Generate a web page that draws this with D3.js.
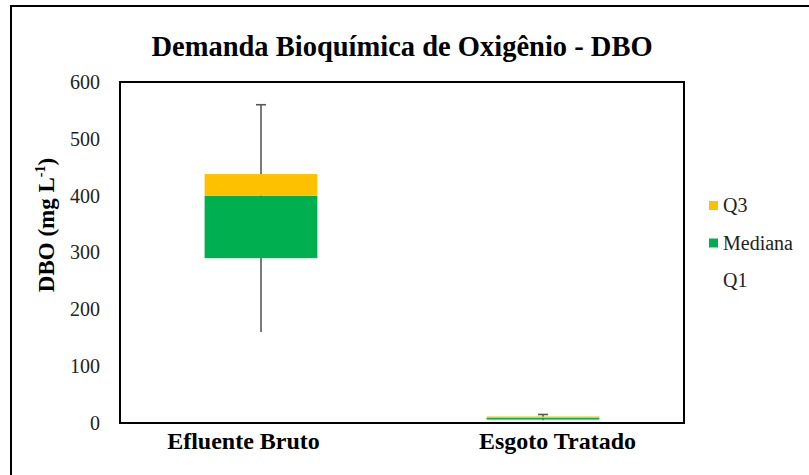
<!DOCTYPE html>
<html><head><meta charset="utf-8">
<script src="https://cdn.jsdelivr.net/npm/d3@7"></script>
<style>body{margin:0;background:#fff;}</style>
</head><body>
<svg id="c" width="809" height="475"></svg>
<script>
const categories = ["Efluente Bruto", "Esgoto Tratado"];
const minVals = [160, 5];
const q1Vals = [290, 6];
const medianVals = [400, 9];
const q3Vals = [438, 11.5];
const maxVals = [560, 15];
const yTicks = [0, 100, 200, 300, 400, 500, 600];
const legendLabels = ["Q3", "Mediana", "Q1"];
const legendColors = ["#FFC000", "#00B050", null];

const svg = d3.select("#c");
const W = 809, H = 475;
const m = {l:120, t:82, r:684, b:423};
const FF = "'Liberation Serif','DejaVu Serif',serif";

svg.append("rect").attr("x",0).attr("y",0).attr("width",W).attr("height",H).attr("fill","#fff");
svg.append("rect").attr("x",11).attr("y",6).attr("width",W).attr("height",H)
  .attr("fill","none").attr("stroke","#000").attr("stroke-width",2);

const x = d3.scalePoint().domain(categories).range([m.l, m.r]).padding(0.5);
const y = d3.scaleLinear().domain([0,600]).range([m.b, m.t]);
const boxW = x.step()*0.4;

svg.append("text").attr("x",402).attr("y",56).attr("text-anchor","middle").attr("font-family",FF)
  .attr("font-weight","bold").attr("font-size",28.5).attr("fill","#000")
  .text("Demanda Bioquímica de Oxigênio - DBO");

const yAxis = d3.axisLeft(y).tickValues(yTicks).tickSize(0).tickPadding(20);
const ga = svg.append("g").attr("transform",`translate(${m.l},0)`).call(yAxis).attr("font-family",FF);
ga.select(".domain").remove();
ga.selectAll("text").attr("font-size",20).attr("fill","#222");

const labelShift = [-18, 14];
const xAxis = d3.axisBottom(x).tickSize(0).tickPadding(9);
const gx = svg.append("g").attr("transform",`translate(0,${m.b})`).call(xAxis).attr("font-family",FF);
gx.select(".domain").remove();
gx.selectAll("text").attr("font-size",24).attr("font-weight","bold").attr("fill","#000")
  .attr("dx",(d,i)=>labelShift[i]);

svg.append("text").attr("transform",`translate(54,225) rotate(-90)`).attr("text-anchor","middle").attr("font-family",FF)
  .attr("font-weight","bold").attr("font-size",23).attr("fill","#000")
  .html('DBO (mg L<tspan dy="-9" font-size="14">-1</tspan><tspan dy="9">)</tspan>');

const data = categories.map((c,i)=>({c, mn:minVals[i], q1:q1Vals[i], md:medianVals[i], q3:q3Vals[i], mx:maxVals[i]}));
const g = svg.append("g");
g.selectAll(".wl").data(data).join("line").attr("x1",d=>x(d.c)).attr("x2",d=>x(d.c))
  .attr("y1",d=>y(d.mn)).attr("y2",d=>y(d.mx)).attr("stroke","#595959").attr("stroke-width",1.6);
g.selectAll(".wc").data(data).join("line").attr("x1",d=>x(d.c)-5).attr("x2",d=>x(d.c)+5)
  .attr("y1",d=>y(d.mx)).attr("y2",d=>y(d.mx)).attr("stroke","#595959").attr("stroke-width",1.6);
g.selectAll(".med").data(data).join("rect").attr("x",d=>x(d.c)-boxW/2).attr("width",boxW)
  .attr("y",d=>y(d.md)).attr("height",d=>y(d.q1)-y(d.md)).attr("fill","#00B050");
g.selectAll(".q3").data(data).join("rect").attr("x",d=>x(d.c)-boxW/2).attr("width",boxW)
  .attr("y",d=>y(d.q3)).attr("height",d=>y(d.md)-y(d.q3)).attr("fill","#FFC000");

svg.append("rect").attr("x",m.l).attr("y",m.t).attr("width",m.r-m.l).attr("height",m.b-m.t)
  .attr("fill","none").attr("stroke","#000").attr("stroke-width",2);

const lg = svg.append("g").attr("font-family",FF);
legendLabels.forEach((lab,i)=>{
  const cy = 205 + i*37.5;
  if (legendColors[i]) lg.append("rect").attr("x",709).attr("y",cy-4).attr("width",9).attr("height",9).attr("fill",legendColors[i]);
  lg.append("text").attr("x",723).attr("y",cy+7).attr("font-size",20).attr("fill","#222").text(lab);
});
</script>
</body></html>
